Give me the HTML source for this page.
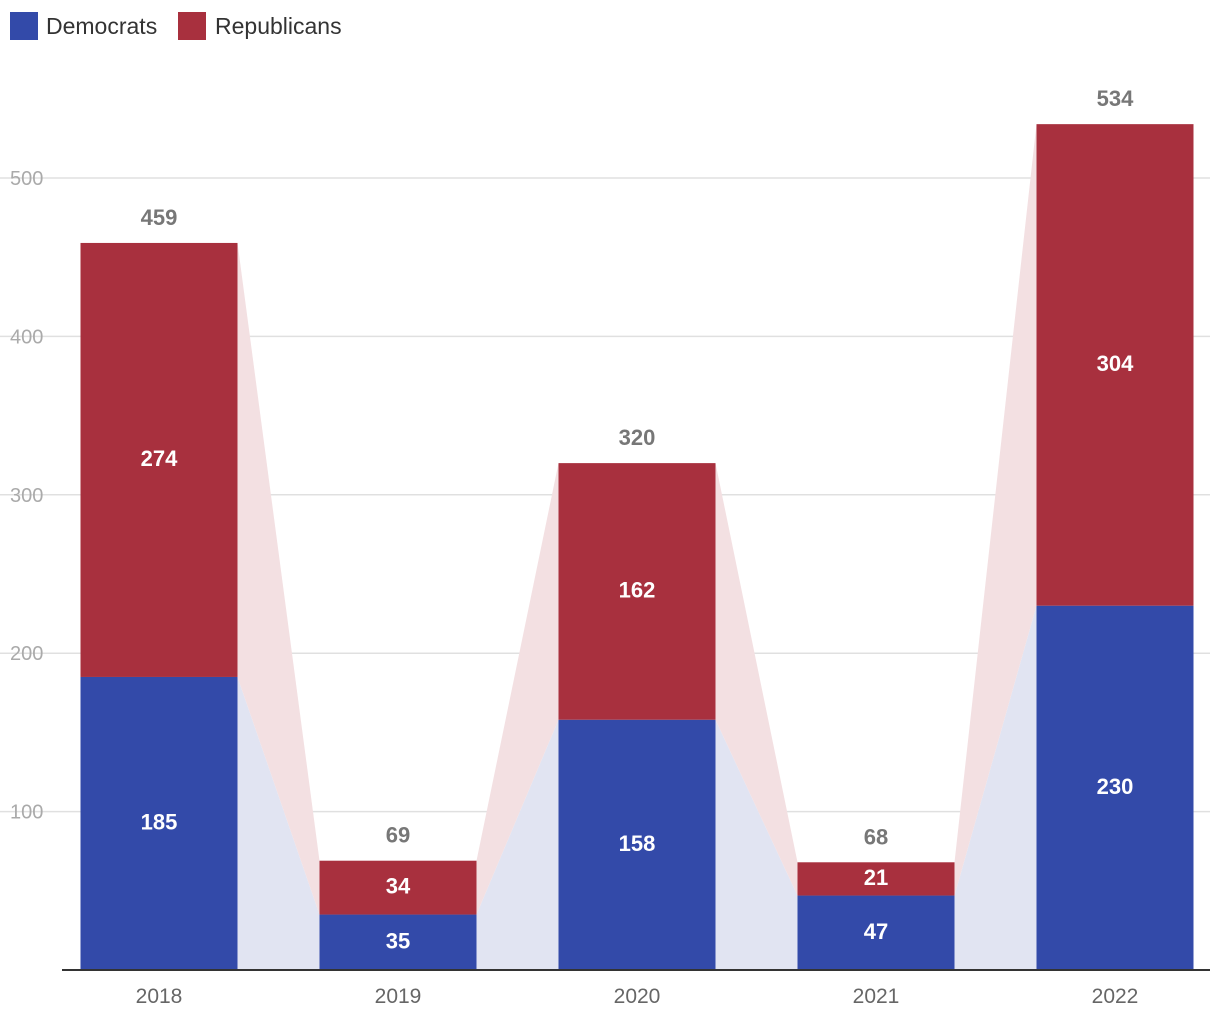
<!DOCTYPE html>
<html><head><meta charset="utf-8"><style>
body{margin:0;background:#fff;font-family:"Liberation Sans",sans-serif;}
</style></head><body>
<svg id="c" width="1220" height="1020" xmlns="http://www.w3.org/2000/svg" font-family="Liberation Sans, sans-serif">
<g>
<rect x="10" y="12" width="28" height="28" fill="#334aa9"/>
<text x="46" y="34" font-size="23" fill="#333">Democrats</text>
<rect x="178" y="12" width="28" height="28" fill="#a8303e"/>
<text x="215" y="34" font-size="23" fill="#333">Republicans</text>
</g>
<g id="grid"></g><g id="conn"></g><g id="bars"></g><g id="labels"></g>
<line x1="62" y1="970" x2="1210" y2="970" stroke="#333" stroke-width="2"/>
</svg>
<script>
const categories=["2018","2019","2020","2021","2022"];
const democrats=[185,35,158,47,230];
const republicans=[274,34,162,21,304];
const yTicks=[100,200,300,400,500];
const NS="http://www.w3.org/2000/svg";
const y=v=>970-v*1.584;
const cx=i=>159+i*239;
const BW=157;
function mk(tag,attrs,parent,txt){const e=document.createElementNS(NS,tag);for(const k in attrs)e.setAttribute(k,attrs[k]);if(txt!==undefined)e.textContent=txt;document.getElementById(parent).appendChild(e);return e;}
yTicks.forEach(t=>{
 const l=mk('line',{x1:0,x2:1210,y1:y(t),y2:y(t),stroke:'#e0e0e0','stroke-width':1.5},'grid');
 
 
 const tx=mk('text',{x:10,y:y(t)+7,'font-size':20,fill:'#aaa'},'grid',t);
 
 
});
for(let i=0;i<categories.length-1;i++){
 const x1=cx(i)+BW/2,x2=cx(i+1)-BW/2;
 const d1=democrats[i],d2=democrats[i+1],t1=d1+republicans[i],t2=d2+republicans[i+1];
 const pb=mk('polygon',{points:`${x1},${y(0)} ${x1},${y(d1)} ${x2},${y(d2)} ${x2},${y(0)}`,fill:'#e1e4f2'},'conn');
 
 
 const pr=mk('polygon',{points:`${x1},${y(d1)} ${x1},${y(t1)} ${x2},${y(t2)} ${x2},${y(d2)}`,fill:'#f3e0e2'},'conn');
 
 
}
categories.forEach((c,i)=>{
 const d=democrats[i],r=republicans[i],x=cx(i)-BW/2;
 const bd=mk('rect',{x:x,y:y(d),width:BW,height:y(0)-y(d),fill:'#334aa9'},'bars');
 
 
 const br=mk('rect',{x:x,y:y(d+r),width:BW,height:y(d)-y(d+r),fill:'#a8303e'},'bars');
 
 
 const ld=mk('text',{x:cx(i),y:(y(0)+y(d))/2+6,'font-size':22,'font-weight':'bold',fill:'#fff','text-anchor':'middle'},'labels',d);
 
 
 const lr=mk('text',{x:cx(i),y:(y(d)+y(d+r))/2+6,'font-size':22,'font-weight':'bold',fill:'#fff','text-anchor':'middle'},'labels',r);
 
 
 const lt=mk('text',{x:cx(i),y:y(d+r)-18,'font-size':22,'font-weight':'bold',fill:'#777','text-anchor':'middle'},'labels',d+r);
 
 
 const lx=mk('text',{x:cx(i),y:1003,'font-size':21,fill:'#666','text-anchor':'middle'},'labels',c);
 
 
});
</script>
</body></html>
